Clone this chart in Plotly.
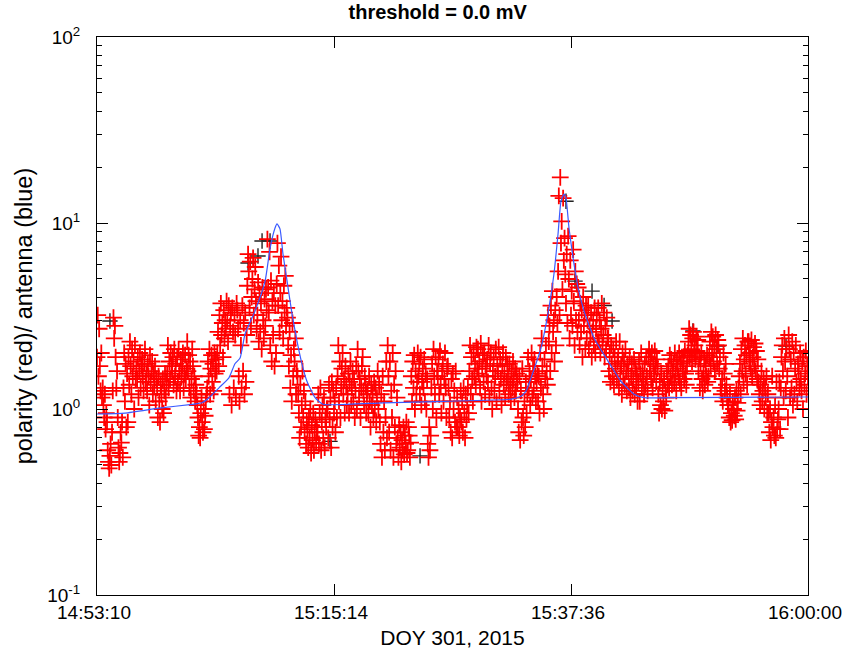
import numpy as np
import plotly.graph_objects as go

# ---------------- data ----------------
T_END = 4010.0  # seconds from 14:53:10 to 16:00:00

# red polarity samples, uniformly spaced in time (14 per row)
red_values = [
    1.9, 3.2, 1.5, 2.7, 1.7, 1.25, 2.0, 1.15, 1.3, 1.05, 0.9, 1.2, 0.78, 0.95,
    0.85, 0.6, 0.52, 0.48, 0.56, 0.65, 0.5, 0.75, 1.25, 3.1, 2.4, 2.8, 1.9, 1.3,
    1.6, 0.9, 0.62, 0.52, 0.58, 0.75, 0.66, 0.85, 0.55, 1.3, 2.0, 1.1, 1.75, 0.8,
    1.55, 0.85, 1.9, 1.35, 2.3, 1.7, 1.2, 2.1, 1.5, 1.8, 1.0, 2.2, 1.45, 1.65,
    1.45, 1.9, 1.15, 1.6, 2.0, 1.3, 1.7, 1.85, 1.5, 1.25, 1.75, 2.1, 1.4, 1.55,
    1.25, 1.75, 1.5, 1.05, 1.95, 1.4, 1.6, 1.8, 1.2, 1.55, 1.35, 1.7, 1.1, 1.45,
    1.3, 0.9, 1.5, 1.1, 0.85, 1.35, 1.2, 1.0, 1.45, 0.95, 1.25, 1.55, 1.15, 1.4,
    1.55, 2.2, 1.3, 1.8, 1.45, 2.0, 1.7, 1.6, 1.9, 1.35, 2.1, 1.5, 1.75, 1.25,
    1.9, 1.4, 2.1, 1.6, 1.25, 1.85, 1.5, 1.7, 2.0, 1.3, 1.55, 1.95, 1.45, 1.65,
    2.3, 1.6, 1.95, 1.3, 1.8, 1.15, 1.45, 2.1, 1.7, 1.25, 1.5, 1.1, 1.35, 1.2,
    1.05, 0.9, 0.72, 0.8, 0.7, 0.95, 1.15, 0.85, 0.75, 1.0, 0.78, 0.92, 1.1, 1.2,
    1.3, 1.8, 1.5, 2.1, 1.2, 1.65, 1.95, 1.4, 1.75, 1.25, 2.0, 1.55, 1.85, 1.6,
    2.0, 2.6, 1.7, 3.2, 2.2, 3.7, 2.5, 2.9, 1.9, 3.4, 2.4, 3.0, 2.7, 3.8,
    3.0, 2.3, 3.6, 1.2, 2.8, 3.3, 1.05, 3.5, 2.6, 1.3, 3.2, 2.5, 1.15, 3.7,
    3.4, 2.7, 1.5, 1.1, 3.0, 2.2, 1.3, 3.6, 1.6, 2.9, 1.2, 3.3, 1.4, 2.5,
    4.6, 6.8, 5.5, 3.5, 6.2, 2.8, 4.0, 5.0, 6.5, 3.2, 4.4, 5.8, 3.8, 2.7,
    3.2, 4.8, 2.3, 4.2, 2.6, 3.7, 2.1, 4.5, 3.0, 2.4, 3.9, 2.8, 4.4, 3.4,
    8.2, 4.5, 3.3, 7.0, 2.2, 4.9, 1.8, 3.8, 2.5, 4.2, 1.7, 3.6, 2.0, 4.7,
    7.8, 3.6, 5.9, 2.6, 4.2, 6.6, 3.0, 3.8, 2.4, 4.6, 3.3, 5.2, 2.8, 3.5,
    3.1, 2.2, 1.7, 2.6, 1.3, 1.95, 1.1, 2.9, 1.5, 2.1, 1.8, 2.4, 1.2, 1.6,
    1.5, 1.2, 0.95, 0.7, 1.35, 0.8, 1.05, 1.6, 0.9, 1.25, 0.75, 1.1, 0.65, 0.85,
    0.78, 0.62, 0.9, 0.7, 1.0, 0.58, 0.82, 0.68, 0.95, 0.6, 0.75, 0.88, 0.66, 0.8,
    0.75, 1.2, 0.65, 0.95, 1.3, 0.6, 0.85, 1.05, 0.7, 1.15, 0.62, 0.9, 0.8, 1.0,
    1.0, 0.7, 1.35, 0.88, 1.15, 0.62, 1.4, 0.8, 1.25, 0.95, 1.1, 0.75, 1.3, 0.9,
    1.5, 2.2, 1.1, 1.8, 0.9, 1.3, 1.65, 2.0, 1.2, 1.45, 0.95, 1.7, 1.35, 1.05,
    1.2, 1.55, 0.95, 1.4, 1.8, 1.05, 1.3, 1.6, 1.1, 1.45, 0.9, 1.25, 1.7, 1.0,
    2.1, 1.6, 1.15, 1.45, 0.9, 1.3, 1.7, 1.9, 1.25, 1.05, 1.5, 1.35, 0.95, 1.2,
    1.25, 0.95, 1.5, 1.1, 0.8, 1.35, 1.05, 1.2, 0.9, 1.4, 1.0, 1.3, 0.85, 1.15,
    1.6, 1.0, 1.35, 0.85, 0.65, 1.2, 0.55, 1.5, 0.75, 1.1, 0.6, 0.9, 1.8, 0.7,
    2.2, 1.5, 0.75, 1.8, 0.6, 1.25, 0.9, 2.0, 0.55, 1.35, 0.8, 1.6, 0.65, 1.15,
    0.7, 0.55, 0.82, 0.62, 0.75, 0.52, 0.68, 0.6, 0.8, 0.57, 0.72, 0.65, 0.85, 0.58,
    0.6, 0.8, 0.72, 0.55, 0.66, 1.5, 1.1, 1.8, 1.3, 1.95, 1.0, 1.6, 1.2, 1.4,
    2.0, 1.5, 1.75, 1.2, 1.9, 1.05, 1.4, 1.65, 1.3, 1.85, 1.1, 1.55, 1.0, 1.45,
    0.65, 0.55, 0.8, 0.6, 0.72, 1.3, 1.75, 1.0, 2.1, 1.5, 1.2, 1.9, 0.9, 1.6,
    1.5, 1.85, 1.2, 2.05, 1.35, 0.95, 1.6, 1.75, 1.1, 1.45, 2.0, 1.3, 0.9, 1.65,
    1.7, 1.3, 0.9, 1.1, 0.75, 1.45, 0.7, 1.55, 1.0, 1.25, 0.85, 1.6, 0.8, 1.15,
    0.8, 1.0, 0.72, 0.9, 1.25, 0.85, 1.1, 0.75, 1.3, 0.95, 0.7, 1.2, 0.88, 1.05,
    1.3, 0.95, 1.6, 2.2, 1.2, 1.9, 1.45, 1.1, 2.0, 1.5, 1.75, 1.35, 2.15, 1.65,
    2.1, 1.55, 1.8, 1.3, 2.25, 1.1, 1.65, 1.95, 1.4, 2.0, 1.2, 1.7, 1.5, 1.85,
    1.4, 2.2, 1.15, 1.75, 2.0, 1.3, 1.0, 1.6, 1.9, 1.25, 1.5, 2.1, 1.1, 1.7,
    1.6, 2.15, 1.25, 1.85, 1.45, 1.05, 1.7, 2.0, 1.35, 1.55, 1.15, 1.9, 1.4, 1.75,
    1.5, 1.2, 1.75, 1.35, 1.1, 1.6, 1.3, 1.8, 1.45, 1.15, 1.65, 1.25, 1.55, 1.4,
    1.0, 0.75, 1.5, 0.68, 1.25, 0.85, 1.65, 0.9, 0.72, 1.1, 0.8, 1.4, 0.95, 1.2,
    1.9, 1.3, 1.6, 1.05, 1.45, 2.0, 1.15, 1.7, 1.25, 1.85, 1.5, 1.1, 1.4, 1.55,
    1.1, 1.5, 0.95, 2.0, 1.3, 2.4, 1.7, 1.2, 1.0, 1.85, 1.45, 2.2, 1.6, 1.35,
    3.2, 2.3, 2.8, 1.6, 3.6, 2.0, 4.3, 2.6, 3.0, 1.8, 3.4, 2.2, 4.0, 2.9,
    5.5, 14.0, 3.2, 17.6, 7.8, 10.2, 4.4, 13.6, 6.3, 8.3, 5.3, 3.7, 6.8, 2.9,
    8.5, 5.0, 2.4, 6.3, 3.2, 4.3, 2.8, 7.2, 3.8, 2.2, 5.5, 3.0, 4.7, 2.6,
    4.5, 3.0, 2.2, 3.7, 2.6, 3.4, 1.9, 4.0, 2.8, 3.2, 2.1, 3.6, 2.4, 3.0,
    3.6, 2.1, 2.8, 2.4, 3.3, 1.9, 2.6, 3.0, 2.2, 3.5, 2.0, 2.7, 3.2, 2.3,
    3.5, 2.3, 3.0, 2.0, 2.7, 3.7, 2.2, 2.5, 3.3, 1.9, 2.8, 2.1, 3.1, 2.4,
    2.4, 1.6, 2.0, 1.4, 2.2, 1.75, 1.5, 2.1, 1.35, 1.9, 1.65, 2.3, 1.45, 1.8,
    1.9, 1.3, 2.3, 1.55, 1.7, 1.2, 2.0, 1.45, 1.8, 1.35, 2.1, 1.6, 1.25, 1.75,
    1.6, 1.3, 1.9, 1.15, 1.5, 1.75, 1.25, 1.45, 1.85, 1.2, 1.65, 1.35, 1.55, 1.1,
    1.4, 1.8, 1.1, 1.55, 2.0, 1.3, 1.6, 1.45, 1.2, 1.75, 1.35, 1.9, 1.5, 1.25,
    1.9, 2.1, 1.6, 1.8, 1.45, 2.0, 1.3, 1.75, 1.55, 2.05, 1.7, 1.4, 1.85, 1.65,
    1.2, 0.95, 1.4, 1.05, 1.55, 1.0, 1.3, 1.1, 1.45, 0.98, 1.25, 1.15, 1.6, 1.35,
    1.7, 1.3, 1.95, 1.5, 1.85, 1.35, 1.6, 1.75, 1.4, 2.0, 1.55, 1.25, 1.8, 1.65,
    1.5, 2.0, 1.4, 1.75, 1.3, 1.9, 1.6, 1.8, 1.45, 2.05, 1.55, 1.35, 1.7, 1.95,
    2.3, 2.7, 1.9, 2.5, 2.1, 1.8, 2.4, 2.6, 2.0, 2.2, 1.85, 2.45, 2.05, 2.35,
    1.6, 1.9, 1.3, 1.75, 2.0, 1.45, 1.25, 1.55, 1.85, 1.35, 1.7, 1.5, 1.95, 1.4,
    1.5, 1.9, 2.3, 1.7, 2.6, 2.0, 2.45, 1.8, 2.2, 1.6, 2.5, 2.1, 1.75, 2.35,
    2.2, 1.65, 1.9, 1.3, 1.2, 1.45, 1.1, 2.0, 1.55, 1.25, 1.75, 1.35, 1.15, 1.05,
    1.05, 0.9, 1.2, 0.85, 0.95, 0.87, 1.1, 1.0, 0.92, 1.15, 0.88, 1.25, 0.98, 1.08,
    1.3, 1.5, 1.75, 1.2, 2.1, 1.6, 2.4, 1.4, 1.85, 2.2, 1.55, 1.95, 1.35, 2.3,
    2.3, 1.8, 2.0, 1.65, 2.35, 1.5, 1.9, 2.15, 1.7, 2.25, 1.6, 2.05, 1.45, 1.85,
    1.4, 1.2, 1.05, 1.35, 1.6, 1.1, 1.25, 1.45, 1.0, 1.3, 1.15, 1.5, 0.95, 1.2,
    0.95, 0.75, 1.0, 0.68, 0.85, 1.5, 0.8, 0.9, 0.72, 1.05, 0.7, 1.4, 0.78, 0.88,
    1.0, 1.4, 0.78, 1.3, 1.9, 2.2, 1.6, 1.15, 2.4, 1.8, 1.25, 2.1, 1.5, 0.9,
    2.5, 2.1, 1.15, 1.85, 1.3, 2.3, 1.05, 2.0, 1.2, 1.65, 2.2, 1.4, 1.1, 1.75,
    1.6, 1.3, 2.0, 1.45, 1.25, 1.8, 1.0, 1.9, 1.35, 1.55, 2.05, 1.2, 1.7, 1.5,
]
red_times = np.linspace(0, T_END, len(red_values))

# black polarity samples (visible where they differ from red)
black_times = [73, 852, 908, 931, 976, 1314, 1822, 2645, 2696, 2792, 2860, 2905, 3361, 3502, 3886]
black_values = [2.97, 6.1, 6.65, 8.0, 8.0, 0.67, 0.56, 13.1, 4.87, 4.3, 3.6, 2.97, 2.63, 2.18, 2.18]

# blue antenna curve
blue_times = [0, 158, 350, 536, 592, 632, 688, 744, 778, 807, 835, 891, 948, 976, 1004, 1015,
              1032, 1049, 1072, 1100, 1128, 1156, 1184, 1230, 1275, 1613, 1963, 2335, 2391,
              2420, 2448, 2504, 2549, 2577, 2600, 2617, 2634, 2645, 2662, 2685, 2713, 2747,
              2803, 2882, 2955, 3029, 3085, 3226, 3987, 4010]
blue_values = [0.94, 0.95, 1.01, 1.06, 1.08, 1.15, 1.30, 1.47, 1.75, 1.88, 2.53, 3.36, 4.87,
               7.3, 9.4, 9.9, 9.3, 6.8, 4.87, 3.24, 2.32, 1.75, 1.41, 1.15, 1.06, 1.08, 1.10,
               1.13, 1.17, 1.25, 1.47, 2.13, 3.5, 5.3, 8.7, 13.1, 14.3, 13.6, 9.4, 6.5, 4.5,
               3.36, 2.41, 1.81, 1.41, 1.20, 1.15, 1.15, 1.16, 1.16]

x_tickvals = [0, T_END / 3, 2 * T_END / 3, T_END]
x_ticktext = ["14:53:10", "15:15:14", "15:37:36", "16:00:00"]
y_tickvals = [0.1, 1, 10, 100]
y_ticktext = ["10<sup>-1</sup>", "10<sup>0</sup>", "10<sup>1</sup>", "10<sup>2</sup>"]
y_minor = [m * d for d in (0.1, 1, 10) for m in range(2, 10)]

# ---------------- figure ----------------
FONT = "Liberation Sans, Arial, Helvetica, sans-serif"
fig = go.Figure()
fig.add_trace(go.Scatter(
    x=black_times, y=black_values, mode="markers",
    marker=dict(symbol="cross-thin", size=11, color="black",
                line=dict(color="#222222", width=1.4)),
    showlegend=False, hoverinfo="skip"))
fig.add_trace(go.Scatter(
    x=red_times, y=red_values, mode="markers",
    marker=dict(symbol="cross-thin", size=12, color="red",
                line=dict(color="red", width=1.8)),
    showlegend=False))
fig.add_trace(go.Scatter(
    x=blue_times, y=blue_values, mode="lines",
    line=dict(color="#3b5bff", width=1.2, shape="spline", smoothing=0.5),
    showlegend=False))

axis_common = dict(showline=True, linecolor="black", linewidth=1, mirror="ticks",
                   ticks="inside", ticklen=11, tickwidth=1, tickcolor="black",
                   showgrid=False, zeroline=False, automargin=False,
                   tickfont=dict(family=FONT, size=19, color="black"))

fig.update_xaxes(range=[0, T_END], tickmode="array", tickvals=x_tickvals,
                 ticktext=x_ticktext, ticklabelshift=-3,
                 title=dict(text="DOY 301, 2015", font=dict(family=FONT, size=21, color="black"),
                            standoff=8),
                 **axis_common)
fig.update_yaxes(type="log", range=[-1, 2], tickmode="array", tickvals=y_tickvals,
                 ticktext=y_ticktext, ticklabelstandoff=12,
                 minor=dict(tickmode="array", tickvals=y_minor, ticks="inside",
                            ticklen=5, tickcolor="black", tickwidth=1, showgrid=False),
                 title=dict(text="polarity (red)/ antenna (blue)",
                            font=dict(family=FONT, size=23.5, color="black"), standoff=8),
                 **axis_common)

fig.update_layout(
    width=845, height=654,
    margin=dict(l=97, r=37, t=37, b=59),
    paper_bgcolor="white", plot_bgcolor="white",
    title=dict(text="<b>threshold = 0.0 mV</b>", x=0.518, xanchor="center",
               y=1 - 12 / 654, yanchor="middle", yref="container",
               font=dict(family=FONT, size=20, color="black")),
    font=dict(family=FONT, color="black"),
)

fig.write_html("out.html")
